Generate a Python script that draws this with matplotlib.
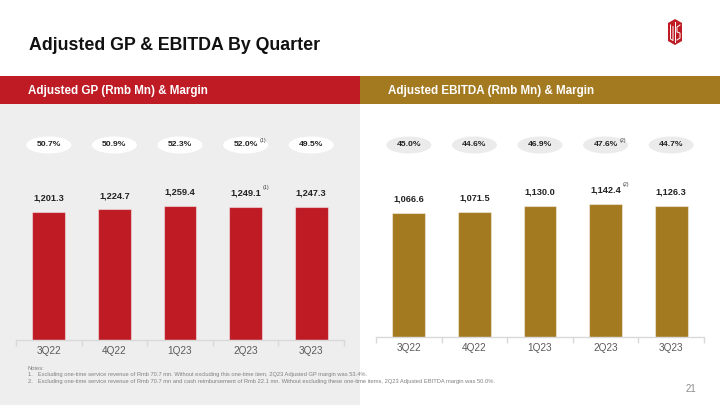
import matplotlib
matplotlib.use("Agg")
import matplotlib.pyplot as plt
from matplotlib.patches import Rectangle, Ellipse, Polygon
from matplotlib.lines import Line2D

plt.rcParams['font.family'] = ['Liberation Sans', 'DejaVu Sans']

# ---------------- data ----------------
quarters = ["3Q22", "4Q22", "1Q23", "2Q23", "3Q23"]
gp_values = [1201.3, 1224.7, 1259.4, 1249.1, 1247.3]
gp_margins = ["50.7%", "50.9%", "52.3%", "52.0%", "49.5%"]
gp_notes = ["", "", "", "(1)", ""]
ebitda_values = [1066.6, 1071.5, 1130.0, 1142.4, 1126.3]
ebitda_margins = ["45.0%", "44.6%", "46.9%", "47.6%", "44.7%"]
ebitda_notes = ["", "", "", "(2)", ""]

title = "Adjusted GP & EBITDA By Quarter"
gp_header = "Adjusted GP (Rmb Mn) & Margin"
ebitda_header = "Adjusted EBITDA (Rmb Mn) & Margin"
notes = [
    "Notes:",
    "1.   Excluding one-time service revenue of Rmb 70.7 mn. Without excluding this one-time item, 2Q23 Adjusted GP margin was 53.4%.",
    "2.   Excluding one-time service revenue of Rmb 70.7 mn and cash reimbursement of Rmb 22.1 mn. Without excluding these one-time items, 2Q23 Adjusted EBITDA margin was 50.0%.",
]
page_no = "21"

RED = "#BE1B25"
GOLD = "#A37A20"
W, H = 720, 405

fig = plt.figure(figsize=(7.2, 4.05), dpi=100)
fig.patch.set_facecolor("white")


def fx(px):
    return px / W


def fy(py):
    return 1 - py / H


def rect(x0, y0, x1, y1, color):
    fig.add_artist(Rectangle((fx(x0), fy(y1)), fx(x1) - fx(x0), fy(y0) - fy(y1),
                             transform=fig.transFigure, facecolor=color,
                             edgecolor="none", zorder=0))


# backgrounds and banners
rect(0, 104, 360, 405, "#EEEEEE")
rect(0, 76, 360, 104, RED)
rect(360, 76, 720, 104, GOLD)

fig.text(fx(29), fy(45), title, fontsize=12.8, fontweight="bold", color="#111111",
         ha="left", va="center")
fig.text(fx(28), fy(91), gp_header, fontsize=8.4, fontweight="bold", color="white",
         ha="left", va="center")
fig.text(fx(388), fy(91), ebitda_header, fontsize=8.4, fontweight="bold", color="white",
         ha="left", va="center")

# logo (simple hexagon mark)
hexpts = [(675, 19), (682, 23), (682, 41), (675, 45), (668, 41), (668, 23)]
fig.add_artist(Polygon([(fx(x), fy(y)) for x, y in hexpts], closed=True,
                       transform=fig.transFigure, facecolor=RED, edgecolor="none"))
for seg in [[(670.5, 25), (670.5, 39), (673, 40.5), (673, 26.5)],
            [(675, 22), (675, 42)],
            [(680, 25), (677, 27), (677, 32), (680, 33), (680, 38), (677, 40)]]:
    fig.add_artist(Line2D([fx(x) for x, y in seg], [fy(y) for x, y in seg],
                          transform=fig.transFigure, color="white", lw=0.7))


def panel(x0, x1, ybase, ytop, px_per_unit, values, margins, marks, color, ell_color):
    ax = fig.add_axes([fx(x0), fy(ybase), fx(x1) - fx(x0), fy(ytop) - fy(ybase)])
    ax.set_facecolor("none")
    xs = list(range(len(values)))
    ax.bar(xs, values, width=0.5, color=color, edgecolor=(1, 1, 1, 0.45),
           linewidth=0.8, zorder=2)
    ax.set_xlim(-0.5, len(values) - 0.5)
    ax.set_ylim(0, (ybase - ytop) / px_per_unit)
    for s in ["top", "right", "left"]:
        ax.spines[s].set_visible(False)
    ax.spines["bottom"].set_color("#D9D9D9")
    ax.spines["bottom"].set_linewidth(1.0)
    ax.set_yticks([])
    ax.set_xticks(xs)
    ax.set_xticklabels(quarters, fontsize=7.2, color="#595959")
    ax.tick_params(axis="x", which="major", length=0, pad=4)
    ax.set_xticks([i - 0.5 for i in range(len(values) + 1)], minor=True)
    ax.tick_params(axis="x", which="minor", length=4, color="#D9D9D9", width=1.0)

    for i, v in enumerate(values):
        t = ax.annotate(f"{v:,.1f}", xy=(i, v), xytext=(0, 10), textcoords="offset points",
                        ha="center", va="center", fontsize=6.6, fontweight="bold",
                        color="#222222")
        if marks[i]:
            ax.annotate(marks[i], xy=(1, 0.85), xycoords=t, xytext=(1.5, 0),
                        textcoords="offset points", ha="left", va="bottom",
                        fontsize=3.8, color="#333333")
    # margin ellipses
    for i, m in enumerate(margins):
        dx = ax.transData.transform((i, 0))[0]
        cx = fig.transFigure.inverted().transform((dx, 0))[0]
        fig.add_artist(Ellipse((cx, fy(145)), fx(45), 17 / H, transform=fig.transFigure,
                               facecolor=ell_color, edgecolor="none", zorder=1))
        t = fig.text(cx, fy(145), m, ha="center", va="center", fontsize=6.1,
                     fontweight="bold", color="#222222", zorder=3)
        if marks[i]:
            fig.add_artist(plt.Annotation(marks[i], xy=(1, 0.85), xycoords=t,
                                          xytext=(1.2, 0), textcoords="offset points",
                                          ha="left", va="bottom", fontsize=3.8,
                                          color="#333333", zorder=3))
    return ax


panel(16, 344, 340, 100, 0.1066, gp_values, gp_margins, gp_notes, RED, "white")
panel(376, 704, 337, 100, 0.1163, ebitda_values, ebitda_margins, ebitda_notes, GOLD, "#EBEBEB")

# notes
for k, line in enumerate(notes):
    fig.text(fx(28), fy(368 + 6.5 * k), line, fontsize=4.15, color="#808080",
             ha="left", va="center")

fig.text(fx(691), fy(389), page_no, fontsize=7, color="#8C8C8C", ha="center", va="center")

fig.savefig("out.png", dpi=100)
